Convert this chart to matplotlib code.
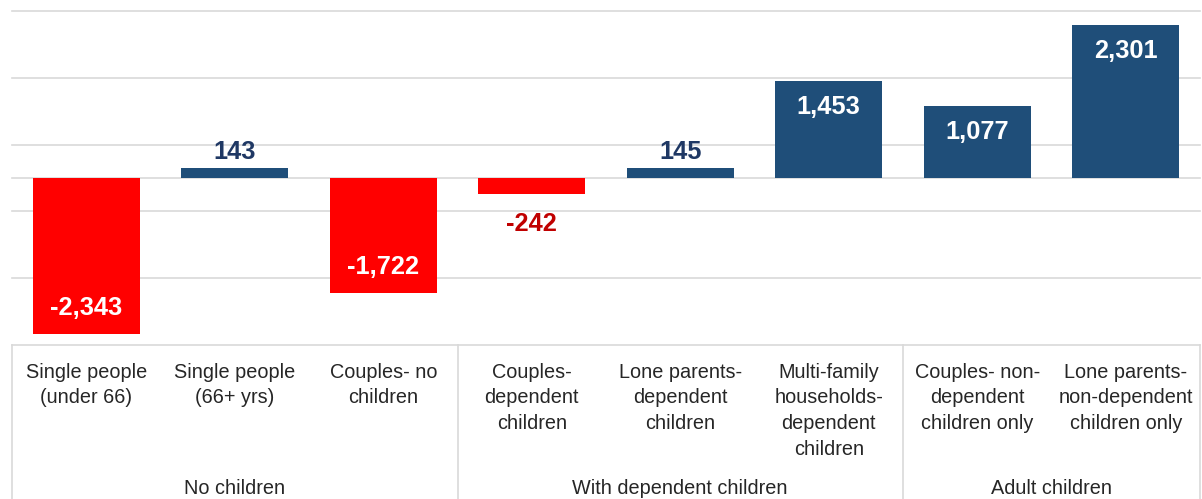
import matplotlib
matplotlib.use("Agg")
import matplotlib.pyplot as plt

plt.rcParams['font.family'] = ['Liberation Sans', 'DejaVu Sans']

categories = [
    "Single people\n(under 66)",
    "Single people\n(66+ yrs)",
    "Couples- no\nchildren",
    "Couples-\ndependent\nchildren",
    "Lone parents-\ndependent\nchildren",
    "Multi-family\nhouseholds-\ndependent\nchildren",
    "Couples- non-\ndependent\nchildren only",
    "Lone parents-\nnon-dependent\nchildren only",
]
values = [-2343, 143, -1722, -242, 145, 1453, 1077, 2301]
groups = ["No children", "With dependent children", "Adult children"]
group_sizes = [3, 3, 2]

BLUE = "#1F4E79"
RED = "#FF0000"
NAVY = "#1F3864"
DARKRED = "#C00000"
GRID = "#D9D9D9"

W, H, DPI = 1202, 499, 100
fig = plt.figure(figsize=(W / DPI, H / DPI), dpi=DPI)
ax_left, ax_right = 12, 1200
ax_top, ax_bot = 11.5, 344.5
ax = fig.add_axes([ax_left / W, 1 - ax_bot / H, (ax_right - ax_left) / W, (ax_bot - ax_top) / H])

x = list(range(len(values)))
colors = [BLUE if v >= 0 else RED for v in values]
ax.bar(x, values, width=0.72, color=colors, zorder=3)

ax.set_xlim(-0.5, len(values) - 0.5)
ax.set_ylim(-2500, 2500)
for yv in [-2500, -1500, -500, 500, 1500, 2500, 0]:
    ax.axhline(yv, color=GRID, lw=1.2, zorder=1, clip_on=False)
for s in ax.spines.values():
    s.set_visible(False)
ax.set_xticks([])
ax.set_yticks([])

# data labels
for xi, v in zip(x, values):
    txt = f"{v:,}"
    big = abs(v) > 1000
    if big:
        off = -26 if v > 0 else 26
        col = "white"
    else:
        off = 16.5 if v > 0 else -30
        col = NAVY if v > 0 else DARKRED
    ax.annotate(txt, (xi, v), xytext=(0, off), textcoords="offset pixels",
                ha="center", va="center", fontsize=18.3, fontweight="bold",
                color=col, zorder=4)

# category area
px = lambda p: (ax_bot - p) / (ax_bot - ax_top)
tr = ax.get_xaxis_transform()
for xi, lab in zip(x, categories):
    ax.text(xi, px(362.5), lab, transform=tr, ha="center", va="top",
            multialignment="center", fontsize=14.3, color="#262626",
            linespacing=1.46)

bounds = [-0.5]
for g in group_sizes:
    bounds.append(bounds[-1] + g)
for b in bounds:
    ax.plot([b, b], [0, px(520)], transform=tr, color=GRID, lw=1.2, clip_on=False)
start = -0.5
for g, n in zip(groups, group_sizes):
    ax.text(start + n / 2, px(494), g, transform=tr, ha="center", va="baseline",
            fontsize=14.3, color="#262626")
    start += n

fig.savefig("out.png", dpi=DPI)
